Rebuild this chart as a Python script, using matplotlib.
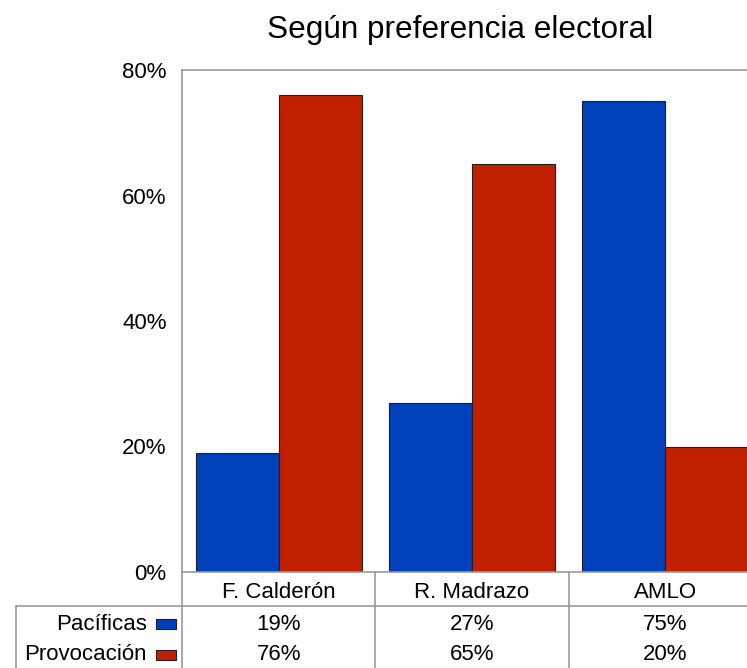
import matplotlib.pyplot as plt
from matplotlib.patches import Rectangle
from matplotlib.lines import Line2D

plt.rcParams['font.family'] = ['Liberation Sans', 'DejaVu Sans']

# datos del grafico
candidatos = ['F. Calderón', 'R. Madrazo', 'AMLO']
pacificas = [19, 27, 75]
provocacion = [76, 65, 20]
series = ['Pacíficas', 'Provocación']
colores = ['#0040BA', '#C02000']
yticks = [0, 20, 40, 60, 80]

fig = plt.figure(figsize=(7.47, 6.68), dpi=100)
ax = fig.add_axes([182/747, 1-572/668, 580/747, 502/668])

w = 0.43
xs = range(len(candidatos))
ax.bar([x - w/2 for x in xs], pacificas, w, color=colores[0], edgecolor='#202020', linewidth=0.8)
ax.bar([x + w/2 for x in xs], provocacion, w, color=colores[1], edgecolor='#202020', linewidth=0.8)

fs = 16
ax.set_xlim(-0.5, 2.5)
ax.set_ylim(0, 80)
ax.set_yticks(yticks)
ax.set_yticklabels([f'{v}%' for v in yticks], fontsize=fs)
ax.set_xticks([])
ax.tick_params(axis='y', length=0, pad=11)
for s in ax.spines.values():
    s.set_color('#999999')
    s.set_linewidth(1.2)

fig.text(460/747, 1-38/668, 'Según preferencia electoral', fontsize=22.7,
         ha='center', va='baseline')

# tabla de datos bajo el grafico
def ay(py):
    return (572 - py) / 502

def axx(px):
    return (px - 182) / 580

lc = '#999999'
for i in range(len(candidatos)):
    ax.add_line(Line2D([i/3, i/3], [0, ay(668)], transform=ax.transAxes,
                       color=lc, lw=1.2, clip_on=False))
ax.add_line(Line2D([axx(16), 1], [ay(606), ay(606)], transform=ax.transAxes,
                   color=lc, lw=1.2, clip_on=False))
ax.add_line(Line2D([axx(16), axx(16)], [ay(606), ay(668)], transform=ax.transAxes,
                   color=lc, lw=1.2, clip_on=False))

for i, c in enumerate(candidatos):
    ax.text((i + 0.5)/3, ay(593), c, transform=ax.transAxes, ha='center',
            va='center', fontsize=fs)

filas = [pacificas, provocacion]
ycent = [624, 655]
for r, (nombre, vals) in enumerate(zip(series, filas)):
    yc = ycent[r]
    ax.text(axx(147), ay(yc), nombre, transform=ax.transAxes, ha='right',
            va='center', fontsize=fs)
    ax.add_patch(Rectangle((axx(156), ay(yc + 5)), 20/580, 10/502,
                           transform=ax.transAxes, facecolor=colores[r],
                           edgecolor='#202020', lw=0.8, clip_on=False))
    for i, v in enumerate(vals):
        ax.text((i + 0.5)/3, ay(yc), f'{v}%', transform=ax.transAxes,
                ha='center', va='center', fontsize=fs)

fig.savefig('out.png', dpi=100)
